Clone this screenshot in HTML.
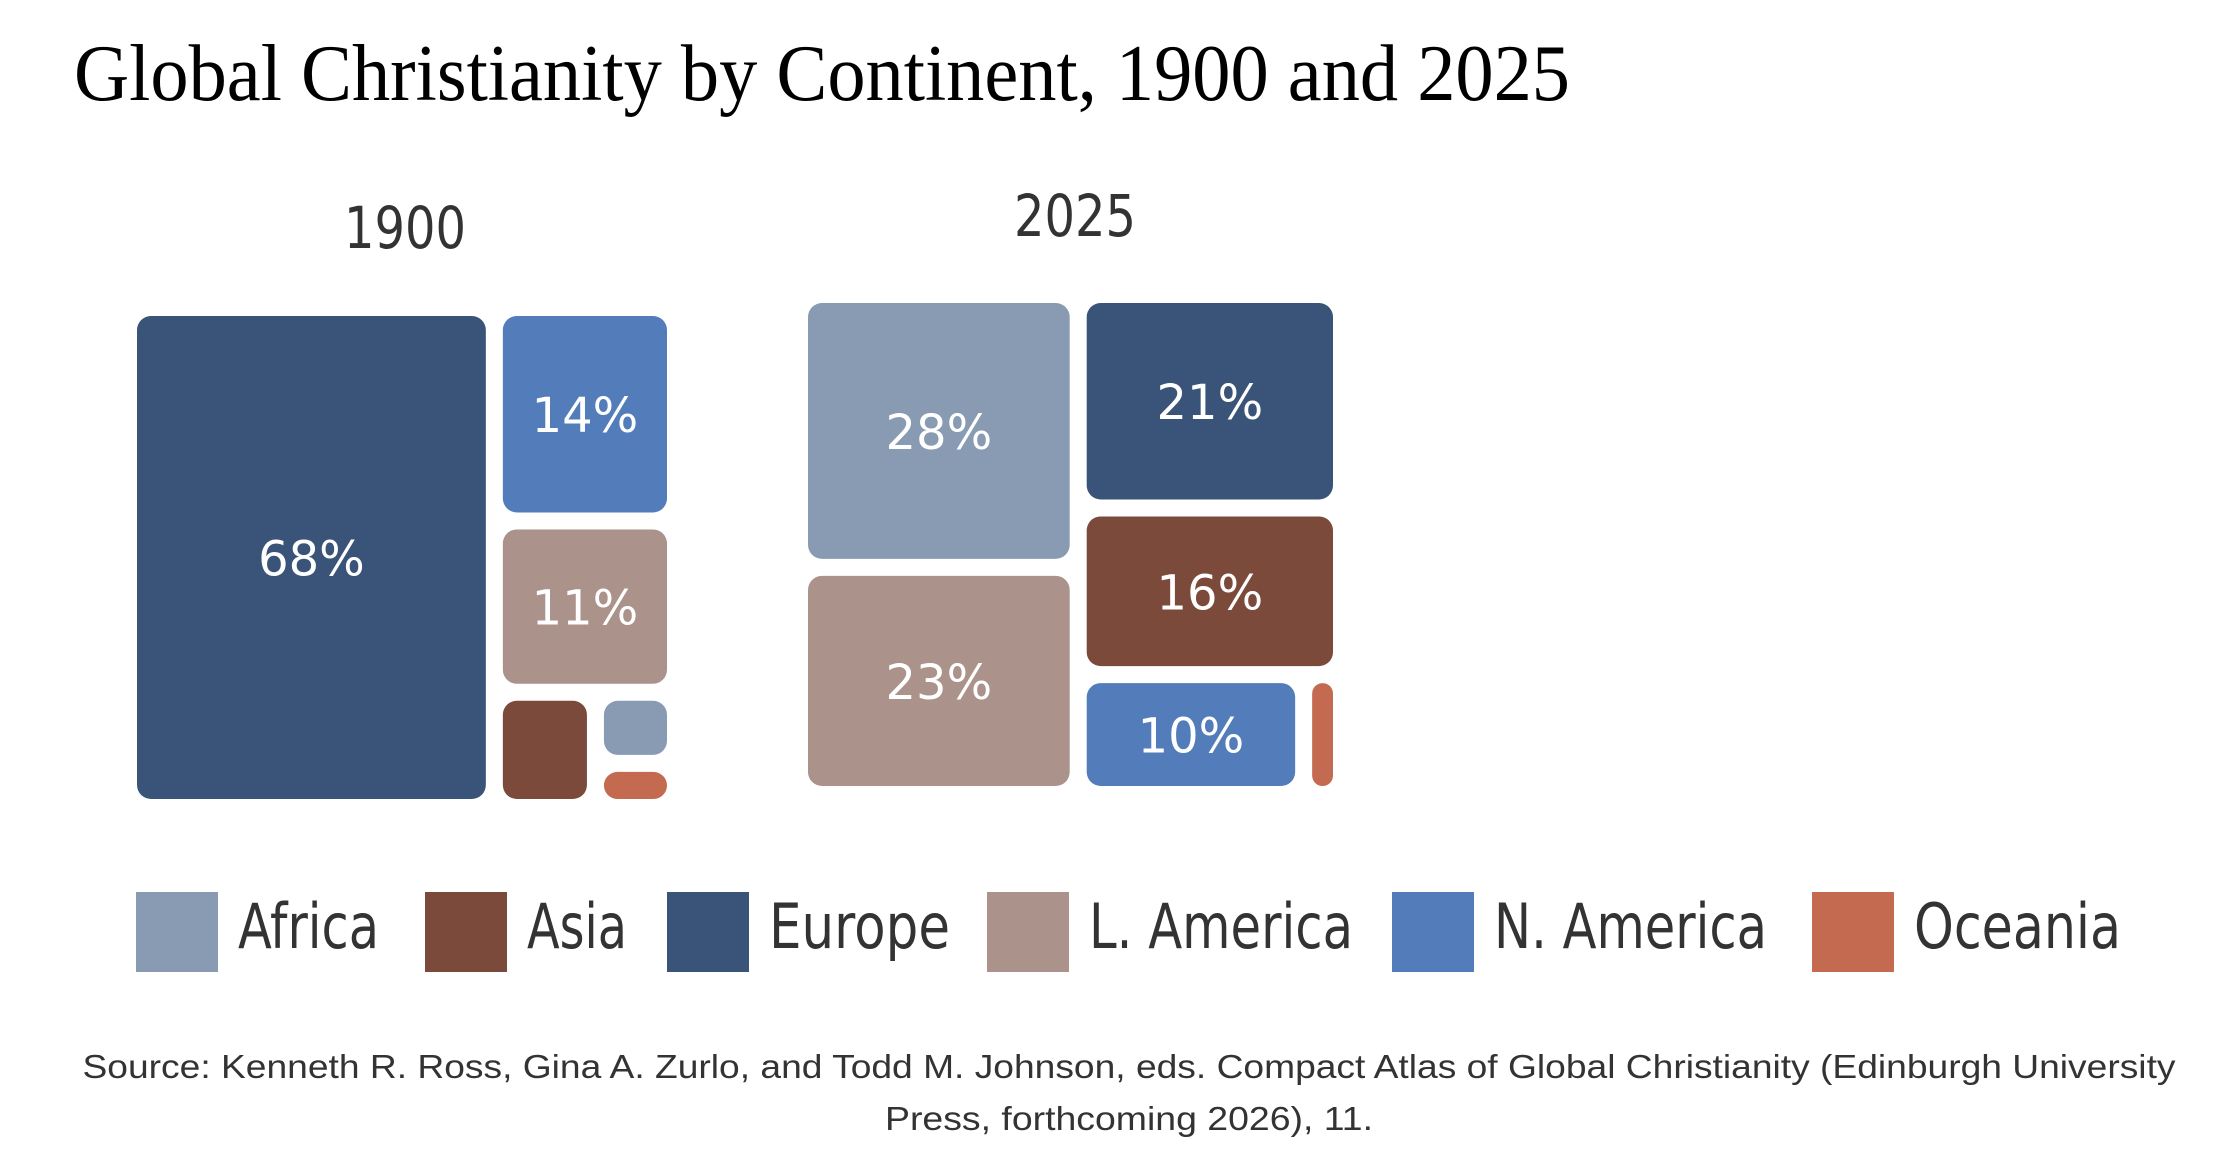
<!DOCTYPE html>
<html><head><meta charset="utf-8"><style>
html,body{margin:0;padding:0;background:#fff;}
body{width:2232px;height:1162px;overflow:hidden;}
</style></head>
<body>
<svg id="chart" width="2232" height="1162" xmlns="http://www.w3.org/2000/svg">
<text x="74" y="100" font-family="Liberation Serif, serif" font-size="80" fill="#000" textLength="1496" lengthAdjust="spacingAndGlyphs">Global Christianity by Continent, 1900 and 2025</text>
<g id="panels"></g>
<g id="legend"></g>
<text x="1129" y="1078" text-anchor="middle" font-family="Liberation Sans, sans-serif" font-size="33" fill="#333" textLength="2093" lengthAdjust="spacingAndGlyphs">Source: Kenneth R. Ross, Gina A. Zurlo, and Todd M. Johnson, eds. Compact Atlas of Global Christianity (Edinburgh University</text>
<text x="1129" y="1130" text-anchor="middle" font-family="Liberation Sans, sans-serif" font-size="33" fill="#333" textLength="488" lengthAdjust="spacingAndGlyphs">Press, forthcoming 2026), 11.</text>
</svg>
<script>
const categories = ["Africa", "Asia", "Europe", "L. America", "N. America", "Oceania"];
const colors = ["#889bb3", "#7b4a3b", "#3a5479", "#ab928a", "#527dba", "#c46a50"];
const years = ["1900", "2025"];
const values1900 = [2, 4, 68, 11, 14, 1];
const values2025 = [28, 16, 21, 23, 10, 1];

const NS = "http://www.w3.org/2000/svg";
const panels = document.getElementById('panels');
const legend = document.getElementById('legend');
function mk(tag, attrs, parent){const e=document.createElementNS(NS,tag);for(const k in attrs)e.setAttribute(k,attrs[k]);parent.appendChild(e);return e;}

const GAP = 17;
const tree1900 = ['h', 2, ['v', 4, 3, ['h', 1, ['v', 0, 5]]]];
const tree2025 = ['h', ['v', 0, 3], ['v', 2, 1, ['h', 4, 5]]];
function sum(node, vals){return typeof node==='number'?vals[node]:node.slice(1).reduce((a,n)=>a+sum(n,vals),0);}
function layout(node, r, vals, out){
  if(typeof node==='number'){out.push({i:node,...r});return;}
  const dir=node[0], kids=node.slice(1), tot=sum(node,vals);
  const len=(dir==='h'?r.w:r.h)-GAP*(kids.length-1);
  let pos=dir==='h'?r.x:r.y;
  kids.forEach(k=>{
    const s=len*sum(k,vals)/tot;
    const cr=dir==='h'?{x:pos,y:r.y,w:s,h:r.h}:{x:r.x,y:pos,w:r.w,h:s};
    layout(k,cr,vals,out); pos+=s+GAP;
  });
}
const panelDefs = [
  {year: years[0], vals: values1900, tree: tree1900, rect: {x:137,y:316,w:530,h:483}, tx:405, ty:248},
  {year: years[1], vals: values2025, tree: tree2025, rect: {x:808,y:303,w:525,h:483}, tx:1075, ty:236}
];
panelDefs.forEach(p=>{
  const g=mk('g',{},panels);
  
  
  const t=mk('text',{x:p.tx,y:p.ty,'text-anchor':'middle','font-family':'DejaVu Sans, sans-serif','font-size':'58',fill:'#333','textLength':'122','lengthAdjust':'spacingAndGlyphs'},g);
  
  
  t.textContent=p.year;
  const out=[]; layout(p.tree,p.rect,p.vals,out);
  out.forEach(c=>{
    const rr=Math.min(14,c.w/2,c.h/2);
    const rect=mk('rect',{x:c.x,y:c.y,width:Math.max(c.w,1),height:c.h,rx:rr,ry:rr,fill:colors[c.i]},g);
    
    
    if(p.vals[c.i]>=10){
      const lt=mk('text',{x:c.x+c.w/2,y:c.y+c.h/2+18,'text-anchor':'middle','font-family':'DejaVu Sans, sans-serif','font-size':'48',fill:'#fff'},g);
      
      
      lt.textContent=p.vals[c.i]+'%';
    }
  });
});
const legX=[136,425,667,987,1392,1812];
const legW=[141,100,181,264,273,207];
categories.forEach((c,i)=>{
  const g=mk('g',{},legend);
  
  
  const s=mk('rect',{x:legX[i],y:892,width:82,height:80,fill:colors[i]},g);
  
  
  const t=mk('text',{x:legX[i]+102,y:948,'font-family':'DejaVu Sans, sans-serif','font-size':'62',fill:'#333',textLength:legW[i],lengthAdjust:'spacingAndGlyphs'},g);
  
  
  t.textContent=c;
});
</script>
</body></html>
